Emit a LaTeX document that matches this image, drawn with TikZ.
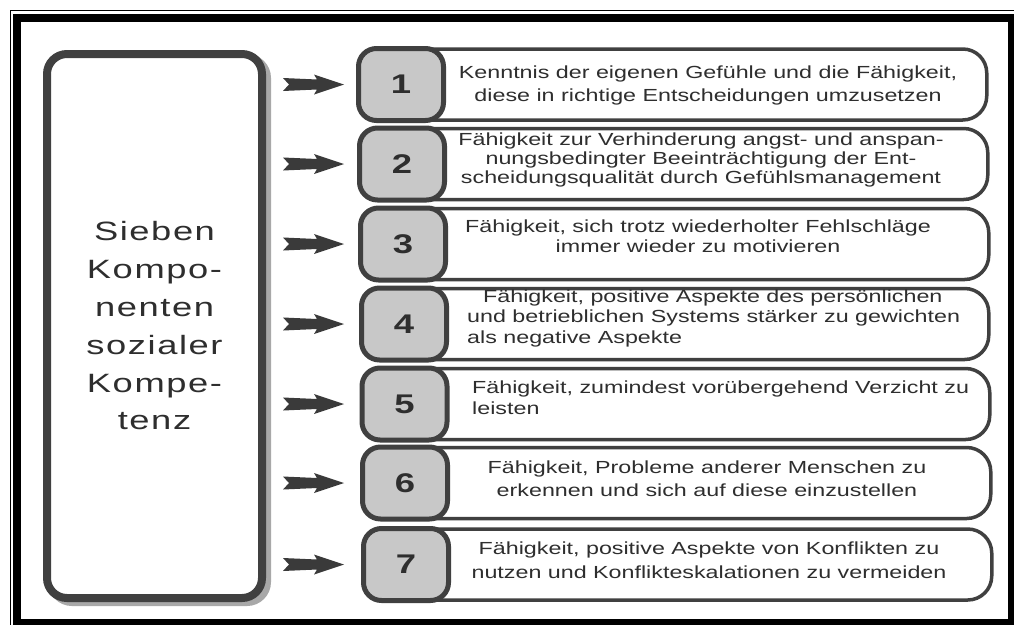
\documentclass[tikz,border=0pt]{standalone}
\usepackage{fontspec}
\setmainfont{Liberation Sans}
\newfontfamily\boxfont[FakeStretch=1.33]{Liberation Sans}
\newfontfamily\bigfont[FakeStretch=1.37,LetterSpace=6]{Liberation Sans}
\newfontfamily\numfont[FakeStretch=1.35]{Liberation Sans}
\definecolor{dk}{HTML}{404040}
\definecolor{numgray}{HTML}{C8C8C8}
\definecolor{txt}{HTML}{2E2E2E}
\definecolor{arrowc}{HTML}{3A3A3A}
\definecolor{shade}{HTML}{A8A8A8}
\tikzset{
  bigbox/.style={draw=dk, line width=8pt, rounded corners=20pt, fill=white, minimum width=215pt, minimum height=544pt, inner sep=0pt},
  bigshadow/.style={draw=shade, line width=8pt, rounded corners=20pt, minimum width=215pt, minimum height=544pt, inner sep=0pt},
  numbox/.style={draw=dk, line width=5pt, fill=numgray, rounded corners=18pt, minimum width=85pt, minimum height=72pt, inner sep=0pt, text=txt, font=\numfont\bfseries\fontsize{27}{27}\selectfont},
  textbox/.style={draw=dk, line width=3.5pt, rounded corners=24pt, fill=white, minimum height=71pt, inner sep=0pt, anchor=west},
  itemtext/.style={text=txt, inner sep=0pt},
  bigtext/.style={text=txt, align=center, font=\bigfont\fontsize{26.5}{37.8}\selectfont},
  fletch/.pic={\fill[arrowc] (0,-6.5) -- (34,-5) -- (31,-10) -- (61,0) -- (31,10) -- (34,5) -- (0,6.5) -- (6,0) -- cycle;}
}
\begin{document}
\begin{tikzpicture}[x=1pt,y=-1pt]
\useasboundingbox (0,0) rectangle (1014,624);
\fill[white] (0,0) rectangle (1014,624);
% frame
\draw[black, line width=1.5pt] (10.5,10.5) rectangle (1030,640);
\draw[black, line width=8pt] (17,17.5) rectangle (1012,623);
% left big box
\node[bigshadow] (bigsh) at (159.5,330) {};
\node[bigbox] (big) at (154.5,326) {};
\node[bigtext] (bigt) at (big.center) {Sieben\\Kompo-\\nenten\\sozialer\\Kompe-\\tenz};
% rows
\foreach \i/\y/\nx/\rx in {1/84.5/401/985, 2/164/402/986, 3/244/403/987, 4/324/404/987, 5/404/404.5/988, 6/483/405/989, 7/564.5/406/990}{
  \node[textbox, minimum width={(\rx-\nx)*1pt}] (t\i) at (\nx,\y) {};
  \node[numbox] (n\i) at (\nx,\y) {\i};
  \pic at ([xshift=17pt]big.east |- n\i.west) {fletch};
}
% texts
\node[itemtext, align=center, font=\boxfont\fontsize{17.5}{23}\selectfont] (x1) at (708,85.5)
  {Kenntnis der eigenen Gefühle und die Fähigkeit,\\diese in richtige Entscheidungen umzusetzen};
\node[itemtext, align=center, font=\boxfont\fontsize{17.5}{19}\selectfont] (x2) at (701,160)
  {Fähigkeit zur Verhinderung angst- und anspan-\\nungsbedingter Beeinträchtigung der Ent-\\scheidungsqualität durch Gefühlsmanagement};
\node[itemtext, align=center, font=\boxfont\fontsize{17.5}{20}\selectfont] (x3) at (698,236)
  {Fähigkeit, sich trotz wiederholter Fehlschläge\\immer wieder zu motivieren};
\node[itemtext, align=left, anchor=west, font=\boxfont\fontsize{17.5}{20.5}\selectfont] (x4) at (467,318)
  {\hspace*{16pt}Fähigkeit, positive Aspekte des persönlichen\\und betrieblichen Systems stärker zu gewichten\\als negative Aspekte};
\node[itemtext, align=left, anchor=west, font=\boxfont\fontsize{17.5}{21}\selectfont] (x5) at (472,397.5)
  {Fähigkeit, zumindest vorübergehend Verzicht zu\\leisten};
\node[itemtext, align=center, font=\boxfont\fontsize{17.5}{23}\selectfont] (x6) at (707,478.5)
  {Fähigkeit, Probleme anderer Menschen zu\\erkennen und sich auf diese einzustellen};
\node[itemtext, align=center, font=\boxfont\fontsize{17.5}{24}\selectfont] (x7) at (709,560)
  {Fähigkeit, positive Aspekte von Konflikten zu\\nutzen und Konflikteskalationen zu vermeiden};
\end{tikzpicture}
\end{document}
